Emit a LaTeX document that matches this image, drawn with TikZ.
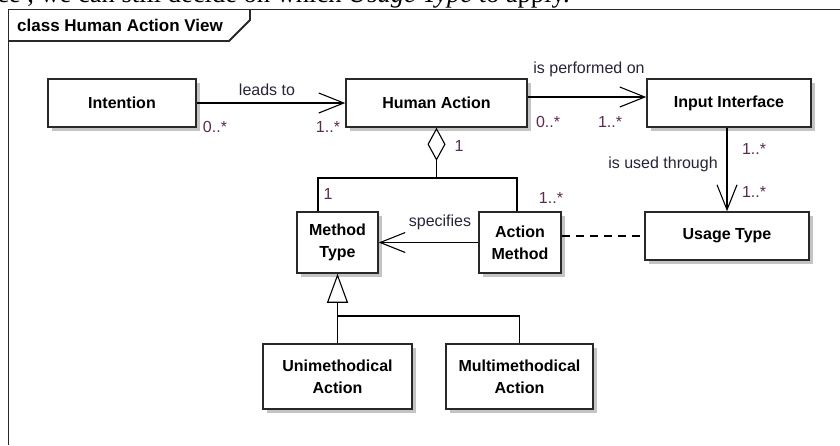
\documentclass[tikz,border=0pt]{standalone}
\usepackage{fontspec}
\setmainfont{Liberation Sans}
\newfontfamily\serifx{Liberation Serif}
\usetikzlibrary{arrows.meta,shadows}

\definecolor{frm}{HTML}{282828}
\definecolor{shd}{HTML}{C4C4C4}
\definecolor{mult}{HTML}{5A2A50}
\definecolor{lbl}{HTML}{2A2238}

\begin{document}
\begin{tikzpicture}[x=1pt,y=-1pt,
  cls/.style={draw=frm, line width=1.5pt, fill=white,
    general shadow={shadow xshift=4pt, shadow yshift=-4pt, fill=shd},
    align=center, inner sep=0pt,
    font=\fontsize{16}{22}\selectfont\bfseries},
  conn/.style={draw=black, line width=1.1pt},
  nav/.style={conn, -{Straight Barb[length=25pt,width=20pt]}},
  lab/.style={font=\fontsize{16}{19}\selectfont, text=lbl, inner sep=0pt, anchor=base},
  mul/.style={font=\fontsize{16}{19}\selectfont, text=mult, inner sep=0pt, anchor=base},
  frame/.style={draw=frm, line width=1.8pt}
]
\useasboundingbox (0,0) rectangle (840,445);

% cut-off line of surrounding text
\begin{scope}
  \clip (0,0) rectangle (840,8.6);
  \node[anchor=base west, inner sep=0pt, font=\serifx\fontsize{26.5}{30}\selectfont] (prevline) at (-3,2.5)
    {ce , we can still decide on which \textit{Usage Type} to apply.};
\end{scope}

% frame
\draw[frame] (8.5,445) -- (8.5,9.5) -- (840,9.5);
\draw[frame] (8.5,41) -- (229,41) -- (250,20) -- (250,9.5);
\node[anchor=base west, inner sep=0pt, font=\fontsize{17}{20}\selectfont\bfseries] (title) at (17,31) {class Human Action View};

% classes
\node[cls, minimum width=148pt, minimum height=48pt] (int) at (122,103) {Intention};
\node[cls, minimum width=181pt, minimum height=48pt] (ha) at (436.5,103) {Human Action};
\node[cls, minimum width=164pt, minimum height=48pt] (ii) at (729,103) {Input Interface};
\node[cls, minimum width=81pt, minimum height=61pt] (mt) at (337.5,242.5) {Method\\Type};
\node[cls, minimum width=82pt, minimum height=61pt] (am) at (520,242.5) {Action\\Method};
\node[cls, minimum width=164pt, minimum height=48pt] (ut) at (727,236) {Usage Type};
\node[cls, minimum width=149pt, minimum height=65pt] (uni) at (337.5,376.5) {Unimethodical\\Action};
\node[cls, minimum width=147pt, minimum height=65pt] (multi) at (519.5,376.5) {Multimethodical\\Action};

% associations
\draw[nav] (int.east) -- (ha.west);
\draw[nav] ([yshift=6pt]ha.east) -- ([yshift=6pt]ii.west);
\draw[nav] (ut.north |- ii.south) -- (ut.north);
\draw[nav] (am.west) -- (mt.east);
\draw[conn, dash pattern=on 8pt off 6pt] (am.east |- ut.west) -- (ut.west);

% aggregation
\coordinate (aj) at (436.5,178);
\draw[conn, {Diamond[open, length=33pt, width=18pt]}-] (ha.south) -- (aj);
\draw[conn] (aj) -| ([xshift=-19.5pt]mt.north);
\draw[conn] (aj) -| ([xshift=-3pt]am.north);

% generalization
\coordinate (gj) at (337.5,316);
\draw[conn, -{Triangle[open, length=29pt, width=21pt]}] (uni.north) -- (mt.south);
\draw[conn] (gj) -| (multi.north);

% labels
\node[lab] (l1) at (267,95) {leads to};
\node[mul] (m1) at (215,132) {0..*};
\node[mul] (m2) at (328,132) {1..*};
\node[lab] (l2) at (589,73) {is performed on};
\node[mul] (m3) at (548,127) {0..*};
\node[mul] (m4) at (610,127) {1..*};
\node[mul] (m5) at (459,151) {1};
\node[mul] (m6) at (328,199) {1};
\node[mul] (m7) at (551,203) {1..*};
\node[mul] (m8) at (754,154) {1..*};
\node[lab] (l3) at (663,168) {is used through};
\node[mul] (m9) at (754,197) {1..*};
\node[lab] (l4) at (440,226) {specifies};
\end{tikzpicture}
\end{document}
